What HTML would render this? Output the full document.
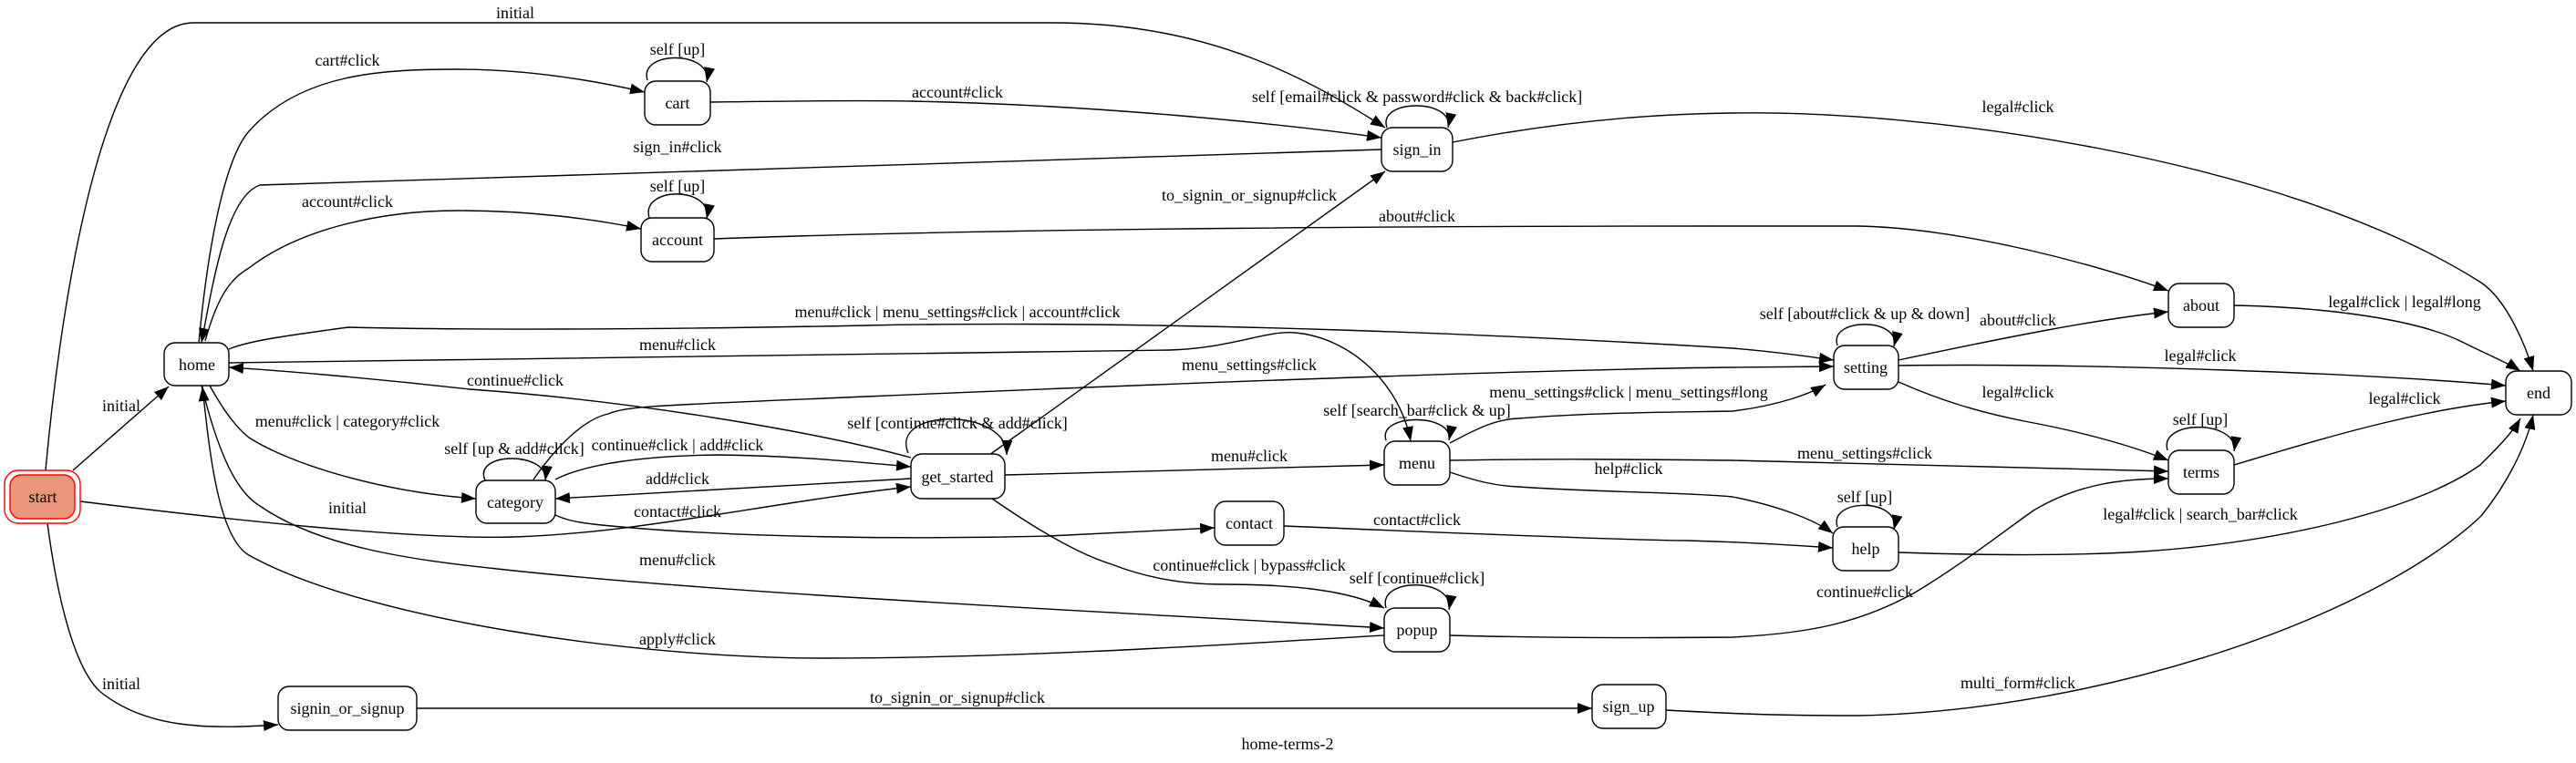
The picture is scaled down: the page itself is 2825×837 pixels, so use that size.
<!DOCTYPE html>
<html><head><meta charset="utf-8"><style>
html,body{margin:0;padding:0;background:#fff;}
svg{display:block;}
text{font-family:"Liberation Serif",serif;font-size:18px;fill:#000;}
.e{fill:none;stroke:#000;stroke-width:1.4;marker-end:url(#a);}
.n{fill:#fff;stroke:#000;stroke-width:1.4;}
</style></head><body>
<svg width="2825" height="837" viewBox="0 0 2825 837" xmlns="http://www.w3.org/2000/svg">
<defs><marker id="a" markerUnits="userSpaceOnUse" markerWidth="18" markerHeight="12" refX="16" refY="6" orient="auto"><path d="M0,0 L16,6 L0,12 z" fill="#000"/></marker></defs>
<g>
<path class="e" d="M50,516 C65,350 110,25 212,25 L1155,25 C1330,25 1440,90 1519,140"/>
<path class="e" d="M80,516 L185,424"/>
<path class="e" d="M88,550 C250,570 450,592 564,589 C700,585 850,550 999,534"/>
<path class="e" d="M52,574 C62,650 80,730 109,758 C160,800 230,800 305,795"/>
<path class="e" d="M218,376 C230,250 250,170 273,144 C330,80 420,76 503,76 C580,76 650,88 707,101"/>
<path class="e" d="M1515,164 L285,203 C250,215 235,300 221,376"/>
<path class="e" d="M225,374 C240,320 255,305 273,294 C330,250 420,231 503,231 C580,231 650,240 703,251"/>
<path class="e" d="M779,112 C850,111 950,110 999,111 C1200,115 1400,135 1515,151"/>
<path class="e" d="M1521,140 C1510,108 1595,108 1588,140"/>
<path class="e" d="M1593,156 C1700,135 1800,125 1900,124 C2100,120 2500,170 2721,310 C2750,330 2770,380 2778,407"/>
<path class="e" d="M783,262 C1100,250 1600,248 1900,248 L2037,248 C2150,250 2300,290 2378,319"/>
<path class="e" d="M1085,499 L1519,188"/>
<path class="e" d="M251,383 C270,375 300,370 382,359 C500,362 700,362 950,357 C1300,350 1700,370 1900,382 C1950,386 1990,392 2011,395"/>
<path class="e" d="M251,398 L1283,384 C1350,382 1390,362 1420,365 C1480,370 1535,420 1547,484"/>
<path class="e" d="M999,502 C900,475 700,440 515,427 C400,414 300,406 251,403"/>
<path class="e" d="M585,526 C610,490 640,460 667,454 C690,445 720,445 950,435 C1300,420 1700,405 1900,403 L2011,402"/>
<path class="e" d="M230,423 C245,450 260,470 273,480 C320,510 420,540 522,547"/>
<path class="e" d="M532,527 C518,495 602,495 598,527"/>
<path class="e" d="M609,526 C640,510 700,500 788,499 C880,500 950,508 999,512"/>
<path class="e" d="M999,525 L609,547"/>
<path class="e" d="M609,565 C620,570 630,573 660,576 C800,590 1000,592 1150,588 L1332,579"/>
<path class="e" d="M221,423 C240,500 260,540 285,555 C350,600 450,614 545,624 C800,652 1200,670 1518,689"/>
<path class="e" d="M1518,697 C1300,710 1100,722 900,722 C700,722 400,680 273,609 C240,590 230,500 222,424"/>
<path class="e" d="M457,777 L1746,777"/>
<path class="e" d="M1827,779 C1900,783 1950,785 2037,785 C2300,780 2600,680 2721,566 C2750,530 2770,490 2778,455"/>
<path class="e" d="M996,497 C975,447 1105,447 1104,499"/>
<path class="e" d="M1102,521 L1518,510"/>
<path class="e" d="M1520,483 C1510,453 1595,453 1589,483"/>
<path class="e" d="M1590,486 C1620,470 1640,460 1665,459 C1750,452 1850,452 1900,451 C1950,445 1985,432 2002,422"/>
<path class="e" d="M1590,505 C1700,503 1800,504 1900,505 C2100,509 2250,513 2378,517"/>
<path class="e" d="M1590,518 C1620,528 1640,533 1665,534 C1750,540 1850,540 1900,545 C1950,555 1990,570 2010,585"/>
<path class="e" d="M1408,577 C1600,585 1800,593 1850,593 C1930,595 1980,599 2010,601"/>
<path class="e" d="M1088,547 C1150,590 1190,610 1219,619 C1260,635 1300,641 1340,641 C1420,641 1480,648 1518,667"/>
<path class="e" d="M1520,667 C1510,633 1595,633 1589,669"/>
<path class="e" d="M1590,697 C1700,700 1800,700 1900,699 C1980,695 2037,685 2100,650 C2150,620 2192,587 2230,560 C2280,530 2330,525 2378,525"/>
<path class="e" d="M2015,578 C2005,546 2085,546 2077,581"/>
<path class="e" d="M2082,606 C2200,610 2285,609 2350,605 C2500,595 2650,560 2720,510 C2740,490 2755,475 2764,459"/>
<path class="e" d="M2015,379 C2005,348 2085,348 2077,380"/>
<path class="e" d="M2082,395 C2200,370 2300,350 2378,342"/>
<path class="e" d="M2082,401 C2300,398 2600,410 2748,423"/>
<path class="e" d="M2082,419 C2130,440 2170,452 2220,462 C2290,475 2340,490 2378,505"/>
<path class="e" d="M2450,335 C2550,337 2650,350 2700,375 C2730,390 2750,398 2764,407"/>
<path class="e" d="M2377,494 C2367,460 2455,460 2450,495"/>
<path class="e" d="M2450,510 C2550,480 2650,450 2748,440"/>
<path class="e" d="M710,88 C700,55 782,55 775,90"/>
<path class="e" d="M712,239 C702,204 782,204 775,240"/>
</g>
<!-- nodes -->
<rect x="5" y="516" width="83" height="58" rx="15" fill="#fff" stroke="#f00" stroke-width="1.4"/>
<rect x="11" y="521" width="71" height="48" rx="12" fill="#e9967a" stroke="#f00" stroke-width="1.4"/>
<rect class="n" x="180" y="376" width="71" height="47" rx="12"/>
<rect class="n" x="707" y="89" width="72" height="48" rx="12"/>
<rect class="n" x="703" y="239" width="80" height="48" rx="12"/>
<rect class="n" x="522" y="527" width="87" height="47" rx="12"/>
<rect class="n" x="305" y="753" width="152" height="48" rx="12"/>
<rect class="n" x="1515" y="140" width="78" height="48" rx="12"/>
<rect class="n" x="999" y="498" width="103" height="49" rx="12"/>
<rect class="n" x="1518" y="484" width="72" height="48" rx="12"/>
<rect class="n" x="1332" y="550" width="76" height="48" rx="12"/>
<rect class="n" x="1518" y="667" width="72" height="48" rx="12"/>
<rect class="n" x="1746" y="751" width="81" height="48" rx="12"/>
<rect class="n" x="2378" y="311" width="72" height="48" rx="12"/>
<rect class="n" x="2011" y="379" width="71" height="48" rx="12"/>
<rect class="n" x="2748" y="407" width="72" height="48" rx="12"/>
<rect class="n" x="2378" y="494" width="72" height="48" rx="12"/>
<rect class="n" x="2010" y="578" width="72" height="48" rx="12"/>
<g text-anchor="middle">
<text x="47" y="551">start</text>
<text x="216" y="406">home</text>
<text x="743" y="119">cart</text>
<text x="743" y="269">account</text>
<text x="565" y="557">category</text>
<text x="381" y="783">signin_or_signup</text>
<text x="1554" y="170">sign_in</text>
<text x="1050" y="529">get_started</text>
<text x="1554" y="514">menu</text>
<text x="1370" y="580">contact</text>
<text x="1554" y="697">popup</text>
<text x="1786" y="781">sign_up</text>
<text x="2414" y="341">about</text>
<text x="2046" y="409">setting</text>
<text x="2784" y="437">end</text>
<text x="2414" y="524">terms</text>
<text x="2046" y="608">help</text>
<!-- edge labels -->
<text x="565" y="20">initial</text>
<text x="381" y="72">cart#click</text>
<text x="743" y="60">self [up]</text>
<text x="1050" y="107">account#click</text>
<text x="1554" y="112">self [email#click &amp; password#click &amp; back#click]</text>
<text x="2213" y="123">legal#click</text>
<text x="743" y="167">sign_in#click</text>
<text x="743" y="210">self [up]</text>
<text x="381" y="227">account#click</text>
<text x="1370" y="220">to_signin_or_signup#click</text>
<text x="1554" y="243">about#click</text>
<text x="1050" y="348">menu#click | menu_settings#click | account#click</text>
<text x="2637" y="337">legal#click | legal#long</text>
<text x="2045" y="350">self [about#click &amp; up &amp; down]</text>
<text x="2213" y="357">about#click</text>
<text x="743" y="384">menu#click</text>
<text x="2413" y="396">legal#click</text>
<text x="1370" y="406">menu_settings#click</text>
<text x="565" y="423">continue#click</text>
<text x="1786" y="436">menu_settings#click | menu_settings#long</text>
<text x="2213" y="436">legal#click</text>
<text x="2637" y="443">legal#click</text>
<text x="1554" y="456">self [search_bar#click &amp; up]</text>
<text x="2413" y="466">self [up]</text>
<text x="381" y="468">menu#click | category#click</text>
<text x="1050" y="470">self [continue#click &amp; add#click]</text>
<text x="564" y="498">self [up &amp; add#click]</text>
<text x="743" y="494">continue#click | add#click</text>
<text x="2045" y="503">menu_settings#click</text>
<text x="1370" y="506">menu#click</text>
<text x="1786" y="520">help#click</text>
<text x="743" y="531">add#click</text>
<text x="2045" y="551">self [up]</text>
<text x="133" y="451">initial</text>
<text x="381" y="563">initial</text>
<text x="743" y="567">contact#click</text>
<text x="1554" y="576">contact#click</text>
<text x="2413" y="570">legal#click | search_bar#click</text>
<text x="743" y="620">menu#click</text>
<text x="1370" y="626">continue#click | bypass#click</text>
<text x="1554" y="640">self [continue#click]</text>
<text x="2045" y="655">continue#click</text>
<text x="743" y="707">apply#click</text>
<text x="133" y="756">initial</text>
<text x="1050" y="771">to_signin_or_signup#click</text>
<text x="2213" y="755">multi_form#click</text>
<text x="1412" y="822">home-terms-2</text>
</g>
</svg>
</body></html>
